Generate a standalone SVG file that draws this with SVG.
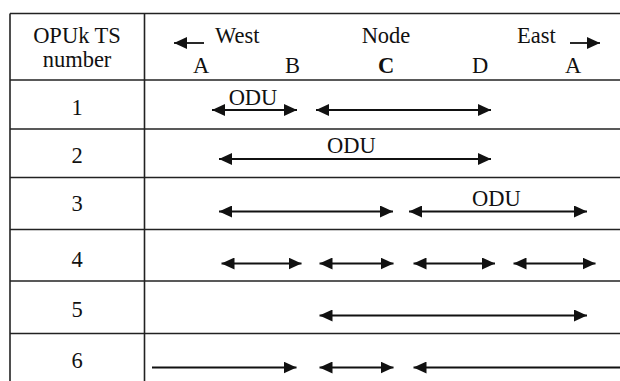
<svg xmlns="http://www.w3.org/2000/svg" width="620" height="381" viewBox="0 0 620 381">
<style>
text{font-family:"Liberation Serif","Times New Roman",serif;font-size:22.5px;fill:#111}
.c{text-anchor:middle}
.grid{stroke:#222;stroke-width:1.6;fill:none}
.arr{stroke:#111;stroke-width:1.8;fill:none}
</style>
<defs>
<marker id="ah" viewBox="0 0 13 12" refX="13" refY="6" markerWidth="13" markerHeight="12" markerUnits="userSpaceOnUse" orient="auto-start-reverse">
<path d="M0,0 L13,6 L0,12 Z" fill="#111"/>
</marker>
</defs>
<rect width="620" height="381" fill="#fff"/>
<g id="table" class="grid">
<line x1="10" y1="13.5" x2="620" y2="13.5"/>
<line x1="10" y1="80" x2="620" y2="80"/>
<line x1="10" y1="129" x2="620" y2="129"/>
<line x1="10" y1="177.5" x2="620" y2="177.5"/>
<line x1="10" y1="229.5" x2="620" y2="229.5"/>
<line x1="10" y1="281" x2="620" y2="281"/>
<line x1="10" y1="333.5" x2="620" y2="333.5"/>
<line x1="10" y1="13.5" x2="10" y2="381"/>
<line x1="144.5" y1="13.5" x2="144.5" y2="381"/>
</g>
<g id="header">
<text class="c" x="77" y="43">OPUk TS</text>
<text class="c" x="77" y="67">number</text>
<text x="215" y="43">West</text>
<text class="c" x="386" y="43">Node</text>
<text x="517" y="43">East</text>
<text class="c" x="201" y="72.5">A</text>
<text class="c" x="292.5" y="72.5">B</text>
<text class="c" x="386" y="72.5" font-weight="bold">C</text>
<text class="c" x="480" y="72.5">D</text>
<text class="c" x="573" y="72.5">A</text>
</g>
<g id="row1"><text class="c" x="77" y="115">1</text><text class="c" x="253" y="105">ODU</text></g>
<g id="row2"><text class="c" x="77" y="163">2</text><text x="327" y="153">ODU</text></g>
<g id="row3"><text class="c" x="77" y="211">3</text><text x="472" y="206">ODU</text></g>
<g id="row4"><text class="c" x="77" y="267">4</text></g>
<g id="row5"><text class="c" x="77" y="317">5</text></g>
<g id="row6"><text class="c" x="77" y="368">6</text></g>
<g id="connectors" class="arr">
<line x1="204" y1="43" x2="174" y2="43" marker-end="url(#ah)"/>
<line x1="570" y1="43" x2="600" y2="43" marker-end="url(#ah)"/>
<line x1="212" y1="110" x2="297" y2="110" marker-start="url(#ah)" marker-end="url(#ah)"/>
<line x1="316" y1="110" x2="491" y2="110" marker-start="url(#ah)" marker-end="url(#ah)"/>
<line x1="219" y1="159" x2="491" y2="159" marker-start="url(#ah)" marker-end="url(#ah)"/>
<line x1="219" y1="211.5" x2="393" y2="211.5" marker-start="url(#ah)" marker-end="url(#ah)"/>
<line x1="409" y1="211.5" x2="587" y2="211.5" marker-start="url(#ah)" marker-end="url(#ah)"/>
<line x1="221.5" y1="263.5" x2="301.5" y2="263.5" marker-start="url(#ah)" marker-end="url(#ah)"/>
<line x1="319.5" y1="263.5" x2="393.5" y2="263.5" marker-start="url(#ah)" marker-end="url(#ah)"/>
<line x1="413.5" y1="263.5" x2="495" y2="263.5" marker-start="url(#ah)" marker-end="url(#ah)"/>
<line x1="513.5" y1="263.5" x2="595.5" y2="263.5" marker-start="url(#ah)" marker-end="url(#ah)"/>
<line x1="319.5" y1="315.5" x2="587" y2="315.5" marker-start="url(#ah)" marker-end="url(#ah)"/>
<line x1="152" y1="367.5" x2="296.5" y2="367.5" marker-end="url(#ah)"/>
<line x1="319.5" y1="367.5" x2="393.5" y2="367.5" marker-start="url(#ah)" marker-end="url(#ah)"/>
<line x1="413.5" y1="367.5" x2="620" y2="367.5" marker-start="url(#ah)"/>
</g>
</svg>
